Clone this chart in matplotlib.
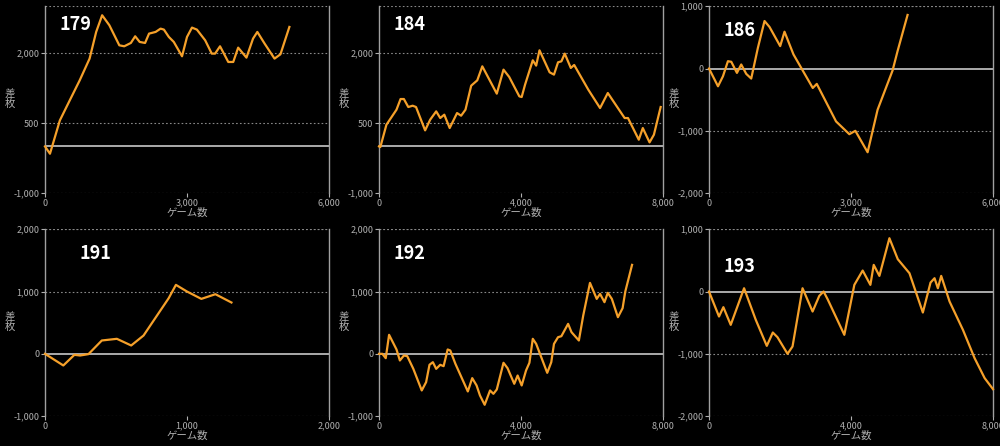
import matplotlib
matplotlib.use("Agg")
import matplotlib.pyplot as plt

plt.rcParams['font.family'] = ['Noto Sans CJK JP', 'DejaVu Sans']

titles = ["179", "184", "186", "191", "192", "193"]

x179 = [0,105,314,523,733,942,1081,1207,1360,1570,1674,1814,1905,2000,2114,2198,2337,2442,2512,2616,2721,2895,3000,3105,3209,3384,3523,3593,3698,3872,3977,4081,4256,4395,4486,4640,4849,4974,5163]
y179 = [0,-157,557,986,1414,1879,2450,2807,2593,2164,2143,2214,2357,2236,2214,2414,2450,2521,2500,2343,2236,1929,2343,2543,2500,2271,1986,1986,2143,1807,1807,2114,1900,2307,2450,2200,1879,1971,2557]

x184 = [0,38,209,493,607,701,825,948,1043,1299,1441,1611,1725,1839,1991,2199,2313,2436,2597,2768,2910,3318,3507,3668,3953,4019,4114,4332,4427,4521,4806,4929,5043,5138,5232,5403,5498,5896,6227,6445,6919,7014,7318,7431,7621,7744,7934]
y184 = [0,-14,464,786,1014,1014,843,871,843,343,571,750,607,679,393,714,657,786,1300,1414,1714,1129,1643,1486,1071,1057,1321,1843,1729,2057,1586,1536,1800,1821,1986,1679,1743,1214,821,1143,607,607,143,393,86,250,843]

x186 = [0,190,295,400,471,590,681,787,892,1033,1173,1279,1504,1595,1785,2192,2277,2684,2965,3092,3351,3562,3878,3984,4195]
y186 = [0,-285,-124,118,108,-70,65,-86,-161,333,763,667,360,591,226,-312,-247,-849,-1054,-1000,-1344,-661,-32,280,860]

x191 = [0,129,207,247,306,400,506,607,694,871,922,1000,1101,1200,1313]
y191 = [0,-187,-16,-27,-5,214,241,134,294,893,1107,1000,882,957,824]

x192 = [0,95,190,284,493,588,701,796,967,1204,1327,1422,1517,1611,1725,1820,1934,2009,2152,2502,2626,2749,2844,2976,3128,3223,3318,3507,3621,3810,3905,4019,4142,4237,4332,4427,4739,4853,4929,5043,5137,5327,5422,5630,5753,5943,6133,6227,6351,6445,6559,6730,6862,6938,7128]
y192 = [0,0,-70,305,70,-107,-27,-37,-241,-588,-455,-176,-134,-241,-176,-198,70,53,-160,-604,-390,-508,-668,-818,-588,-642,-572,-144,-230,-481,-348,-508,-267,-144,241,160,-305,-134,160,267,283,481,348,214,615,1139,882,963,829,979,882,588,733,1000,1428]

x193 = [0,282,405,612,988,1318,1628,1798,1929,2212,2353,2635,2918,3106,3228,3341,3812,4094,4329,4546,4640,4800,5082,5318,5647,6024,6240,6353,6447,6541,6776,7153,7482,7765,8000]
y193 = [0,-401,-251,-535,53,-455,-872,-658,-733,-1000,-882,53,-321,-70,0,-123,-695,107,337,107,428,251,856,519,294,-337,144,214,53,251,-160,-615,-1070,-1390,-1567]

xs = [x179, x184, x186, x191, x192, x193]
ys = [y179, y184, y186, y191, y192, y193]
xmax = [6000, 8000, 6000, 2000, 8000, 8000]
yticks = [[-1000, 500, 2000], [-1000, 500, 2000], [-2000, -1000, 0, 1000],
          [-1000, 0, 1000, 2000], [-1000, 0, 1000, 2000], [-2000, -1000, 0, 1000]]
ylims = [(-1000, 3000), (-1000, 3000), (-2000, 1000), (-1000, 2000), (-1000, 2000), (-2000, 1000)]
title_pos = [(0.05, 0.9), (0.05, 0.9), (0.05, 0.87), (0.12, 0.87), (0.05, 0.87), (0.05, 0.8)]

fig = plt.figure(figsize=(10, 4.46), dpi=100, facecolor='black')
lefts = [0.045, 0.379, 0.709]
bottoms = [0.567, 0.067]
w, h = 0.284, 0.419
gray = '#a0a0a0'
for i in range(6):
    r, c = divmod(i, 3)
    ax = fig.add_axes([lefts[c], bottoms[r], w, h])
    ax.set_facecolor('black')
    ax.set_xlim(0, xmax[i])
    ax.set_ylim(*ylims[i])
    ax.set_yticks(yticks[i])
    ax.set_xticks([0, xmax[i] / 2, xmax[i]])
    fmt = lambda v, p: f"{int(v):,}"
    ax.xaxis.set_major_formatter(matplotlib.ticker.FuncFormatter(fmt))
    ax.yaxis.set_major_formatter(matplotlib.ticker.FuncFormatter(fmt))
    for yt in yticks[i] + [ylims[i][1]]:
        if yt != 0:
            ax.axhline(yt, color='#888888', lw=0.8, ls=(0, (1.5, 2)), zorder=1)
    ax.axhline(0, color='#c8c8c8', lw=1.2, zorder=2)
    for s in ['top', 'bottom']:
        ax.spines[s].set_visible(False)
    for s in ['left', 'right']:
        ax.spines[s].set_color(gray)
        ax.spines[s].set_linewidth(1.0)
    ax.tick_params(colors='#b0b0b0', labelsize=6.5, length=3, width=0.8, pad=1)
    ax.set_xlabel("ゲーム数", color='#b0b0b0', fontsize=7.5, labelpad=0)
    ax.set_ylabel("差\n枚", color='#b0b0b0', fontsize=7.5, rotation=0, va='center', ha='center', linespacing=0.9)
    ax.yaxis.set_label_coords(-0.125, 0.5)
    ax.plot(xs[i], ys[i], color='#f5a02a', lw=1.6, zorder=3, clip_on=False)
    ax.text(title_pos[i][0], title_pos[i][1], titles[i], transform=ax.transAxes,
            color='white', fontsize=13, fontweight='bold', va='center', ha='left')

fig.savefig('out.png', dpi=100, facecolor='black')
